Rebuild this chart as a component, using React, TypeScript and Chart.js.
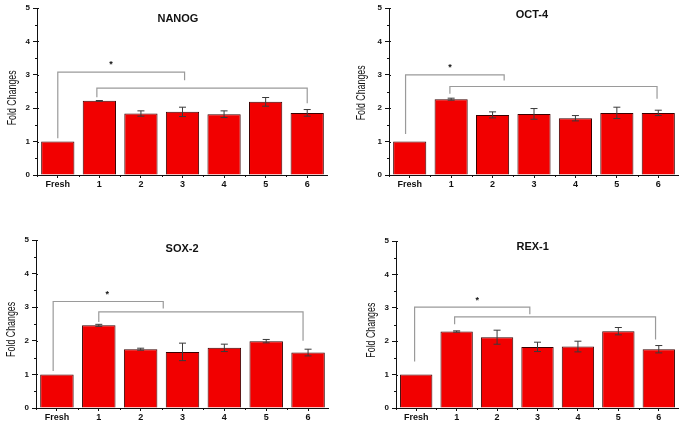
import React, { useEffect, useRef } from "react";
import { Chart, registerables } from "chart.js";
Chart.register(...registerables);

const categories = ["Fresh", "1", "2", "3", "4", "5", "6"];
const yTicks = [0, 1, 2, 3, 4, 5];

const nanogValues = [1.0, 2.22, 1.84, 1.89, 1.82, 2.19, 1.86];
const nanogErrors = [0, 0.01, 0.08, 0.14, 0.1, 0.13, 0.1];
const oct4Values = [1.0, 2.27, 1.8, 1.83, 1.7, 1.86, 1.86];
const oct4Errors = [0, 0.03, 0.09, 0.16, 0.08, 0.17, 0.08];
const sox2Values = [1.0, 2.46, 1.75, 1.67, 1.79, 1.99, 1.65];
const sox2Errors = [0, 0.03, 0.03, 0.26, 0.11, 0.05, 0.1];
const rex1Values = [1.0, 2.29, 2.12, 1.83, 1.84, 2.3, 1.76];
const rex1Errors = [0, 0.02, 0.21, 0.14, 0.16, 0.11, 0.11];

// significance brackets: [xStart, yStartBottom, yTop, xEnd, yEndBottom] in category index / value units
const nanogBrackets = [
  [0, 1.1, 3.08, 3.05, 2.84],
  [0.94, 2.33, 2.6, 6.0, 2.15],
];
const nanogStar = [1.28, 3.38];
const oct4Brackets = [
  [-0.1, 1.23, 3.0, 2.28, 2.83],
  [0.97, 2.43, 2.65, 5.97, 2.28],
];
const oct4Star = [0.97, 3.27];
const sox2Brackets = [
  [-0.09, 1.1, 3.17, 2.54, 2.96],
  [1.0, 2.56, 2.86, 5.88, 2.0],
];
const sox2Star = [1.2, 3.43];
const rex1Brackets = [
  [-0.04, 1.39, 3.02, 2.81, 2.81],
  [0.95, 2.51, 2.73, 5.92, 2.05],
];
const rex1Star = [1.51, 3.27];

const FONT = "'Liberation Sans', Arial, sans-serif";

type PanelCfg = {
  title: string;
  values: number[];
  errors: number[];
  brackets: number[][];
  star: number[];
  l: number;
  t: number;
  w: number;
  h: number;
  wy: number;
  titleX: number;
  titleY: number;
  yTitleDx: number;
  yTitleV: number;
};

const panels: PanelCfg[] = [
  { title: "NANOG", values: nanogValues, errors: nanogErrors, brackets: nanogBrackets, star: nanogStar,
    l: 0, t: 0, w: 328, h: 200, wy: 37, titleX: 2.89, titleY: 4.67, yTitleDx: -24.5, yTitleV: 2.31 },
  { title: "OCT-4", values: oct4Values, errors: oct4Errors, brackets: oct4Brackets, star: oct4Star,
    l: 352, t: 0, w: 327, h: 200, wy: 37, titleX: 2.95, titleY: 4.79, yTitleDx: -27, yTitleV: 2.46 },
  { title: "SOX-2", values: sox2Values, errors: sox2Errors, brackets: sox2Brackets, star: sox2Star,
    l: 0, t: 232, w: 329, h: 201, wy: 36, titleX: 2.99, titleY: 4.74, yTitleDx: -24.5, yTitleV: 2.34 },
  { title: "REX-1", values: rex1Values, errors: rex1Errors, brackets: rex1Brackets, star: rex1Star,
    l: 359, t: 233, w: 320, h: 200, wy: 37, titleX: 2.88, titleY: 4.82, yTitleDx: -24.5, yTitleV: 2.33 },
];

function Panel({ p }: { p: PanelCfg }) {
  const ref = useRef<HTMLCanvasElement | null>(null);
  useEffect(() => {
    const overlay = {
      id: "overlay",
      afterDraw(chart: any) {
        const ctx = chart.ctx;
        const xs = chart.scales.x;
        const ys = chart.scales.y;
        const area = chart.chartArea;
        const line = (x1: number, y1: number, x2: number, y2: number) => {
          ctx.beginPath();
          ctx.moveTo(x1, y1);
          ctx.lineTo(x2, y2);
          ctx.stroke();
        };
        ctx.save();
        // axis minor / inward ticks
        ctx.strokeStyle = "#111";
        ctx.lineWidth = 1;
        for (let i = 0; i < yTicks.length - 1; i++) {
          const py = Math.round(ys.getPixelForValue(yTicks[i] + 0.5)) + 0.5;
          line(area.left - 2, py, area.left, py);
        }
        yTicks.forEach((v) => {
          const py = Math.round(ys.getPixelForValue(v)) + 0.5;
          line(area.left, py, area.left + 2, py);
        });
        for (let i = 0; i <= categories.length; i++) {
          const px = Math.round(xs.getPixelForValue(i - 0.5)) + 0.5;
          line(px, area.bottom, px, area.bottom + 2);
        }
        // error bars
        ctx.strokeStyle = "#3a3a3a";
        const meta = chart.getDatasetMeta(0);
        p.values.forEach((v, i) => {
          const e = p.errors[i];
          if (!e) return;
          const px = meta.data[i].x;
          const top = ys.getPixelForValue(v + e);
          const bot = ys.getPixelForValue(v - e);
          line(px, top, px, bot);
          line(px - 3.5, top, px + 3.5, top);
          line(px - 3.5, bot, px + 3.5, bot);
        });
        // brackets
        ctx.strokeStyle = "#9a9a9a";
        ctx.lineWidth = 1.2;
        p.brackets.forEach((b) => {
          const x1 = xs.getPixelForValue(b[0]);
          const x2 = xs.getPixelForValue(b[3]);
          const yb1 = ys.getPixelForValue(b[1]);
          const yt = ys.getPixelForValue(b[2]);
          const yb2 = ys.getPixelForValue(b[4]);
          ctx.beginPath();
          ctx.moveTo(x1, yb1);
          ctx.lineTo(x1, yt);
          ctx.lineTo(x2, yt);
          ctx.lineTo(x2, yb2);
          ctx.stroke();
        });
        // star
        ctx.fillStyle = "#111";
        ctx.textAlign = "center";
        ctx.textBaseline = "middle";
        ctx.font = `bold 9px ${FONT}`;
        ctx.fillText("*", xs.getPixelForValue(p.star[0]), ys.getPixelForValue(p.star[1]) + 2);
        // title
        ctx.font = `bold 11px ${FONT}`;
        ctx.fillText(p.title, xs.getPixelForValue(p.titleX), ys.getPixelForValue(p.titleY));
        // y axis title
        ctx.save();
        ctx.translate(area.left + p.yTitleDx, ys.getPixelForValue(p.yTitleV));
        ctx.rotate(-Math.PI / 2);
        ctx.font = `12px ${FONT}`;
        ctx.fillText("Fold Changes", 0, 0, 55);
        ctx.restore();
        ctx.restore();
      },
    };
    const chart = new Chart(ref.current as HTMLCanvasElement, {
      type: "bar",
      data: {
        labels: categories,
        datasets: [
          {
            data: p.values,
            backgroundColor: "#F20000",
            borderColor: "#3a0000",
            borderWidth: 1,
            barPercentage: 0.8,
            categoryPercentage: 1,
          },
        ],
      },
      options: {
        responsive: false,
        animation: false,
        layout: { padding: { top: 8, right: 0, left: 0, bottom: 0 } },
        plugins: { legend: { display: false }, tooltip: { enabled: false }, title: { display: false } },
        scales: {
          x: {
            type: "category",
            offset: true,
            afterFit: (s: any) => {
              s.height = 25;
            },
            grid: { offset: false, drawOnChartArea: false, drawTicks: true, tickLength: 3, color: "#111" },
            border: { display: true, color: "#111", width: 1 },
            ticks: { font: { family: FONT, size: 9, weight: "bold" }, color: "#111", padding: 1, maxRotation: 0 },
          },
          y: {
            min: 0,
            max: 5,
            afterFit: (s: any) => {
              s.width = p.wy;
            },
            grid: { drawOnChartArea: false, drawTicks: true, tickLength: 4, color: "#111" },
            border: { display: true, color: "#111", width: 1 },
            ticks: { stepSize: 1, font: { family: FONT, size: 8, weight: "bold" }, color: "#111", padding: 3 },
          },
        },
      },
      plugins: [overlay],
    } as any);
    return () => chart.destroy();
  }, []);
  return (
    <canvas
      ref={ref}
      width={p.w}
      height={p.h}
      style={{ position: "absolute", left: p.l, top: p.t, width: p.w, height: p.h }}
    />
  );
}

export default function App() {
  return (
    <div style={{ position: "absolute", left: 0, top: 0, width: 685, height: 424, background: "#fff", overflow: "hidden" }}>
      {panels.map((p) => (
        <Panel key={p.title} p={p} />
      ))}
    </div>
  );
}
